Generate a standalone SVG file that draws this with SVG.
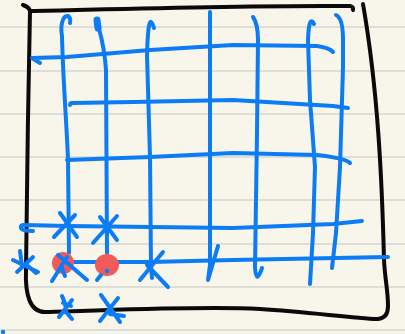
<svg xmlns="http://www.w3.org/2000/svg" width="405" height="334" viewBox="0 0 405 334">
<style>
.rule{stroke:#d6d6d2;stroke-width:1.3;fill:none}
.frame{stroke:#0a0a0a;stroke-width:4;fill:none;stroke-linecap:round;stroke-linejoin:round}
.b{stroke:#0b7cf5;stroke-width:4;fill:none;stroke-linecap:round;stroke-linejoin:round}
.red{fill:#f25a5a}
</style>
<rect width="405" height="334" fill="#f8f5ea"/>
<g id="ruled">
<line class="rule" x1="0" y1="27" x2="405" y2="27"/>
<line class="rule" x1="0" y1="71" x2="405" y2="71"/>
<line class="rule" x1="0" y1="114" x2="405" y2="114"/>
<line class="rule" x1="0" y1="157" x2="405" y2="157"/>
<line class="rule" x1="0" y1="200" x2="405" y2="200"/>
<line class="rule" x1="0" y1="244" x2="405" y2="244"/>
<line class="rule" x1="0" y1="287" x2="405" y2="287"/>
<line class="rule" x1="0" y1="330" x2="405" y2="330"/>
</g>
<g id="frame">
<path class="frame" d="M23,5 Q29,7 30,11 C28,90 27,200 26,270 C25,295 30,312 45,312 C120,310 200,306 260,309 C310,312 350,318 378,319 Q388,318 388,306 C388,290 385,280 384,260 C382,180 378,90 363,4"/>
<path class="frame" d="M30,11 C120,9 250,5 350,6 Q354,7 353,10"/>
</g>
<g id="grid">
<path class="b" d="M62,36 C60,25 63,15 68,16 Q71,18 70,23 M62,36 C63,80 67,130 68,160 L69,253"/>
<path class="b" d="M97,20 C98,28 104,40 106,70 L107,253" />
<path class="b" d="M97,20 L98,28" style="stroke-width:7"/>
<path class="b" d="M152,278 L151,267 L150,157 L147,55 Q148,20 151,22 Q153,24 154,28"/>
<path class="b" d="M210,12 L210,265 L208,280 L218,246"/>
<path class="b" d="M253,17 Q258,24 258,40 L257,133 L255,267 Q256,286 262,268"/>
<path class="b" d="M310,284 L313,233 L315,167 L310,100 L308,40 Q309,14 314,24"/>
<path class="b" d="M336,15 Q343,18 343,40 L343,67 L340,167 L336,233 L332,268"/>
<path class="b" d="M40,63 L32,58 L67,57 L150,50 L233,45 L317,46 Q330,48 333,52"/>
<path class="b" d="M70,105 Q70,103 72,103 L133,102 L233,100 L333,106 L348,108"/>
<path class="b" d="M67,160 L150,157 L233,153 L317,155 Q345,158 350,163"/>
<path class="b" d="M33,231 Q22,231 21,228 Q20,225 24,225 L67,226 L233,228 L333,224 L362,221"/>
<path class="b" d="M67,262 L150,262 L233,260 L388,257"/>
</g>
<g id="marks">
<circle class="red" cx="63" cy="263" r="11"/>
<ellipse class="red" cx="107" cy="265" rx="12" ry="11"/>
<circle cx="107" cy="271" r="2.2" fill="#0b7cf5"/>
<path class="b" d="M60,213 L77,237 M75,215 L54,237"/>
<path class="b" d="M100,217 L117,240 M117,216 L93,243 M106,222 L107,235"/>
<path class="b" d="M163,252 L140,280 M147,265 L168,287"/>
<path class="b" d="M13,260 L38,272 M33,257 L17,272 M20,251 L22,266 M28,266 L36,273"/>
<path class="b" d="M58,255 L87,280 M67,257 L52,281 M62,268 L65,276"/>
<path class="b" d="M101,275 L97,280"/>
<path class="b" d="M62,296 Q66,304 66,312 L72,319 M72,300 L59,317 M63,303 L71,306"/>
<path class="b" d="M101,295 L120,322 M118,298 L100,321 M110,314 L124,316"/>
<circle cx="3" cy="332" r="2.2" fill="#0b7cf5"/>
</g>
</svg>
